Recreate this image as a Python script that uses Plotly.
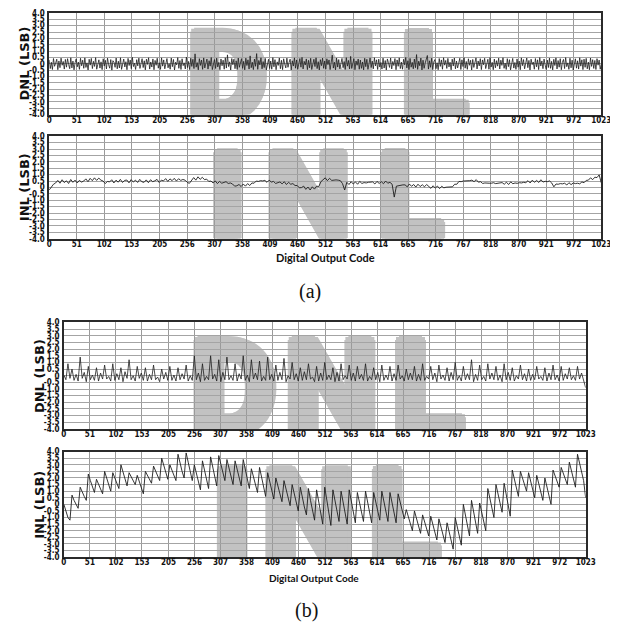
import numpy as np
import plotly.graph_objects as go

# ---------------- data ----------------
tick_codes = [0, 51, 102, 153, 205, 256, 307, 358, 409, 460, 512, 563, 614,
              665, 716, 767, 818, 870, 921, 972, 1023]
tick_labels = [str(c) for c in tick_codes]
y_ticks = [4.0, 3.5, 3.0, 2.5, 2.0, 1.5, 1.0, 0.5, 0.0, -0.5, -1.0, -1.5,
           -2.0, -2.5, -3.0, -3.5, -4.0]
y_labels = ["4.0", "3.5", "3.0", "2.5", "2.0", "1.5", "1.0", "0.5", "0",
            "-0.5", "-1.0", "-1.5", "-2.0", "-2.5", "-3.0", "-3.5", "-4.0"]

# (a) DNL, sampled every ~2 codes
dnl_a = [
    0.30, -0.38, 0.12, -0.45, 0.41, -0.20, 0.05, 0.36, -0.47, 0.22, -0.31, 0.44, -0.12, 0.18, -0.42, 0.34,
    -0.27, 0.40, -0.06, -0.39, 0.47, -0.33, 0.21, -0.48, 0.09, 0.38, -0.24, 0.13, -0.44, 0.43, -0.16, 0.28,
    -0.36, 0.46, -0.29, 0.07, -0.49, 0.35, -0.11, 0.42, -0.38, 0.19, -0.21, 0.48, -0.43, 0.02, 0.31, -0.34,
    0.15, -0.46, 0.39, -0.18, 0.27, -0.41, 0.44, -0.08, -0.35, 0.33, -0.50, 0.24, 0.11, -0.28, 0.45, -0.40,
    0.20, -0.33, 0.47, -0.44, 0.06, 0.37, -0.25, 0.16, -0.47, 0.42, -0.14, 0.29, -0.39, 0.50, -0.22, 0.04,
    -0.45, 0.32, -0.17, 0.44, -0.37, 0.10, 0.40, -0.30, 0.23, -0.48, 0.36, -0.05, 0.47, -0.42, 0.14, -0.26,
    0.38, -0.47, 0.26, -0.12, 0.43, -0.35, 0.08, -0.44, 0.46, -0.19, 0.30, -0.40, 0.17, 0.41, -0.32, 0.01,
    -0.43, 0.45, -0.23, 0.34, -0.49, 0.12, -0.09, 0.48, -0.36, 0.25, -0.45, 0.39, -0.15, 0.07, -0.41, 0.52,
    -0.30, 0.18, -0.46, 0.43, -0.21, 0.35, -0.38, 0.78, -0.27, 0.09, -0.48, 0.40, -0.13, 0.29, -0.44, 0.46,
    -0.33, 0.14, 0.37, -0.42, 0.24, -0.19, 0.49, -0.46, 0.05, 0.33, -0.37, 0.44, -0.25, 0.11, -0.47, 0.38,
    -0.16, 0.28, -0.43, 0.47, -0.34, 0.70, -0.22, 0.15, -0.49, 0.41, -0.08, 0.36, -0.39, 0.23, -0.45, 0.45,
    -0.28, 0.06, 0.40, -0.36, 0.19, -0.48, 0.44, -0.14, 0.31, -0.42, 0.62, -0.31, 0.12, -0.46, 0.37, -0.20,
    0.80, -0.44, 0.26, -0.09, 0.47, -0.40, 0.17, -0.30, 0.42, -0.48, 0.08, 0.35, -0.37, 0.21, -0.43, 0.48,
    -0.24, 0.32, -0.47, 0.15, -0.13, 0.45, -0.39, 0.27, -0.46, 0.39, -0.02, -0.33, 0.44, -0.28, 0.10, 0.36,
    -0.49, 0.23, -0.18, 0.46, -0.35, 0.30, -0.43, 0.13, 0.41, -0.27, 0.50, -0.41, 0.19, -0.10, 0.38, -0.46,
    0.27, -0.32, 0.43, -0.45, 0.09, 0.35, -0.22, 0.47, -0.38, 0.16, -0.49, 0.32, -0.15, 0.44, -0.36, 0.22,
    -0.42, 0.39, -0.07, 0.30, -0.46, 0.20, 0.68, -0.34, 0.12, -0.48, 0.45, -0.26, 0.33, -0.40, 0.06, 0.42,
    -0.31, 0.17, -0.45, 0.48, -0.19, 0.26, -0.41, 0.58, -0.37, 0.08, 0.40, -0.47, 0.22, -0.12, 0.37, -0.43,
    0.29, -0.36, 0.14, -0.48, 0.43, -0.23, 0.35, -0.44, 0.03, 0.46, -0.30, 0.21, -0.40, 0.47, -0.17, 0.31,
    -0.45, 0.36, -0.26, 0.10, -0.42, 0.44, -0.34, 0.25, -0.49, 0.38, 0.07, -0.29, 0.45, -0.41, 0.18, -0.14,
    0.41, -0.47, 0.30, -0.20, 0.46, -0.38, 0.13, -0.43, 0.35, -0.09, 0.49, -0.33, 0.24, -0.46, 0.42, -0.27,
    0.11, -0.40, 0.37, -0.31, 0.72, -0.44, 0.20, -0.16, 0.45, -0.49, 0.28, -0.36, 0.06, 0.39, 0.65, -0.42,
    0.23, -0.28, 0.44, -0.46, 0.16, 0.33, -0.39, 0.08, -0.47, 0.41, -0.21, 0.30, -0.43, 0.47, -0.11, 0.26,
    -0.37, 0.42, -0.25, 0.12, -0.48, 0.36, -0.18, 0.45, -0.40, 0.21, -0.33, 0.04, 0.43, -0.45, 0.31, -0.22,
    0.47, -0.35, 0.18, -0.44, 0.39, -0.12, 0.27, -0.49, 0.34, -0.29, 0.09, 0.46, -0.41, 0.22, -0.17, 0.40,
    -0.46, 0.30, -0.08, 0.43, -0.38, 0.15, 0.35, -0.43, 0.48, -0.26, 0.11, -0.47, 0.37, -0.32, 0.24, -0.19,
    0.44, -0.41, 0.28, -0.13, 0.47, -0.36, 0.05, -0.45, 0.40, -0.23, 0.32, -0.48, 0.17, 0.42, -0.34, 0.10,
    -0.44, 0.38, -0.27, 0.21, -0.47, 0.46, -0.15, 0.33, -0.40, 0.08, 0.45, -0.31, 0.26, -0.49, 0.36, -0.07,
    0.14, -0.43, 0.41, -0.24, 0.31, -0.46, 0.48, -0.18, 0.22, -0.39, 0.37, -0.10, -0.45, 0.29, -0.30, 0.44,
    -0.36, 0.19, -0.48, 0.35, -0.14, 0.46, -0.41, 0.25, -0.27, 0.40, -0.47, 0.12, 0.34, -0.38, 0.48, -0.23,
    0.07, -0.44, 0.43, -0.32, 0.28, -0.49, 0.16, 0.39, -0.35, 0.23, -0.42, 0.47, -0.19, 0.31, -0.46, 0.36,
    -0.28, 0.42, -0.40, 0.13, -0.47, 0.45, -0.21, 0.32, -0.37, 0.26, -0.45, 0.40, -0.11, 0.29, -0.43, -0.05,
]

# (a) INL, sampled every ~4 codes
inl_a = [
    -0.20, 0.05, 0.25, 0.35,
    0.55, 0.33, 0.60, 0.38, 0.52, 0.31, 0.62, 0.40, 0.57, 0.35, 0.55, 0.42,
    0.50, 0.67, 0.45, 0.71, 0.53, 0.75, 0.55, 0.73, 0.57, 0.50,
    0.30, 0.47,
    0.43, 0.60, 0.35, 0.57, 0.41, 0.63, 0.39, 0.55, 0.58, 0.36, 0.61, 0.42, 0.57, 0.39, 0.63, 0.44,
    0.40, 0.59, 0.37, 0.60, 0.45, 0.52, 0.63, 0.39, 0.57,
    0.51, 0.69, 0.47, 0.67, 0.53, 0.71, 0.50, 0.68, 0.55, 0.62, 0.57,
    0.40, 0.32,
    0.60, 0.77, 0.57, 0.83, 0.63, 0.79, 0.61,
    0.65, 0.47, 0.50, 0.35, 0.51, 0.30, 0.47, 0.33, 0.37, 0.45, 0.31, 0.35,
    0.27, 0.10, 0.13, 0.23, 0.07, 0.27, 0.10, 0.30, 0.15,
    0.35, 0.33, 0.50, 0.47, 0.53, 0.51, 0.55, 0.40, 0.57, 0.42,
    0.47, 0.31, 0.35, 0.43, 0.28, 0.45, 0.23, 0.40, 0.25, 0.30, 0.15,
    0.15, -0.03, -0.01, 0.10, -0.15, 0.03, -0.20, 0.05, -0.13, 0.10, 0.07,
    0.45, 0.57, 0.75, 0.53, 0.71, 0.55, 0.60, 0.59, 0.57, 0.53,
    0.30, -0.20,
    0.40, 0.23, 0.45, 0.27, 0.43, 0.25, 0.47, 0.31, 0.38, 0.35, 0.40, 0.39, 0.43, 0.27, 0.47, 0.31,
    0.45, 0.29, 0.50, 0.33, 0.40, 0.25,
    -0.75,
    0.10, 0.15, 0.17, 0.20, 0.20, 0.05, 0.27, 0.09, 0.23, 0.03, 0.25, 0.07, 0.21, 0.05, 0.23,
    0.10, -0.07, 0.13, -0.05, 0.11, -0.09, 0.09, -0.03, 0.02, 0.02, 0.05, 0.05, 0.25, 0.25,
    0.47, 0.45, 0.50, 0.50, 0.53, 0.53, 0.57, 0.45, 0.61, 0.41, 0.45, 0.31,
    0.35, 0.31, 0.33, 0.33, 0.37, 0.30, 0.32, 0.35, 0.38, 0.25, 0.41, 0.23, 0.43, 0.29, 0.35, 0.32,
    0.37, 0.35, 0.40,
    0.37, 0.53, 0.35, 0.57, 0.40, 0.55, 0.39, 0.60, 0.42, 0.48, 0.45, 0.51, 0.35,
    0.05,
    0.27, 0.25, 0.30, 0.28, 0.33, 0.19, 0.37, 0.22, 0.35, 0.30, 0.33, 0.28, 0.43, 0.37, 0.55,
    0.57, 0.75, 0.61, 0.80, 0.77, 0.98,
    0.35,
]

# (b) DNL, sampled every ~4 codes
dnl_b = [
    0.05, -0.30, 0.90, -0.20, 0.50, -0.35, 0.10, -0.40, 1.40, -0.20, 0.25, -0.45, 0.70, -0.30, 0.05, -0.35,
    0.60, -0.40, 0.20, -0.25, 0.80, -0.25, -0.05, -0.40, 0.90, -0.35, 0.15, -0.30, 0.60, -0.45, 0.30, -0.20,
    1.20, -0.30, 0.00, -0.40, 0.70, -0.20, 0.20, -0.35, 0.60, -0.40, 0.10, -0.30, 0.80, -0.30, -0.10, -0.45,
    0.50, -0.25, 0.25, -0.35, 0.70, -0.35, 0.05, -0.40, 0.60, -0.30, 0.15, -0.25, 0.80, -0.40, 0.00, -0.35,
    1.50, -0.30, 0.20, -0.45, 0.90, -0.35, -0.05, -0.30, 1.50, -0.25, 0.10, -0.40, 1.20, -0.45, 0.25, -0.30,
    1.40, -0.30, 0.00, -0.35, 0.90, -0.40, 0.15, -0.25, 1.50, -0.35, 0.05, -0.45, 1.20, -0.25, 0.20, -0.30,
    1.10, -0.40, -0.05, -0.35, 1.40, -0.30, 0.10, -0.40, 0.80, -0.35, 0.25, -0.30, 1.30, -0.45, 0.00, -0.25,
    1.00, -0.30, 0.15, -0.40, 0.60, -0.35, 0.30, -0.30, 0.90, -0.25, -0.10, -0.45, 0.70, -0.40, 0.20, -0.35,
    1.00, -0.30, 0.05, -0.30, 0.60, -0.45, 0.25, -0.40, 0.90, -0.30, 0.00, -0.25, 0.80, -0.35, 0.20, -0.40,
    0.70, -0.25, 0.10, -0.35, 0.90, -0.40, -0.05, -0.30, 0.60, -0.30, 0.25, -0.45, 0.80, -0.35, 0.05, -0.30,
    0.70, -0.40, 0.15, -0.35, 0.80, -0.25, 0.00, -0.40, 0.50, -0.30, 0.20, -0.30, 0.70, -0.40, 0.10, -0.35,
    0.90, -0.35, -0.05, -0.25, 0.70, -0.30, 0.20, -0.45, 0.80, -0.25, 0.05, -0.35, 0.60, -0.40, 0.25, -0.30,
    1.00, -0.35, 0.00, -0.40, 0.70, -0.30, 0.15, -0.30, 1.20, -0.45, 0.10, -0.35, 0.80, -0.30, -0.05, -0.40,
    0.90, -0.25, 0.20, -0.30, 0.70, -0.35, 0.05, -0.45, 0.90, -0.30, 0.25, -0.35, 0.60, -0.40, 0.00, -0.25,
    0.80, -0.30, 0.15, -0.40, 0.50, -0.35, 0.10, -0.30, 0.70, -0.25, -0.05, -0.35, 0.60, -0.40, 0.20, -0.30,
    0.80, -0.30, 0.05, -0.40, 0.70, -0.35, 0.15, -0.25, 0.60, -0.30, 0.00, -0.35, 0.70, -0.25, 0.20, -0.30,
    -0.90,
]

# (b) INL, sampled every ~4 codes
inl_b = [
    0.0, -0.5, -1.0, -1.2,   0.7, 0.3, 0.0, -0.3,    1.3, 0.9, 0.6, 0.3,     2.3, 1.8, 1.3, 0.9,
    1.9, 1.5, 1.1, 0.8,      2.5, 2.0, 1.4, 1.0,     2.4, 2.0, 1.6, 1.2,     3.0, 2.5, 1.9, 1.4,
    2.4, 2.1, 1.8, 1.5,      2.2, 1.7, 1.2, 0.8,     2.5, 2.2, 1.9, 1.6,     2.9, 2.5, 2.1, 1.8,
    3.5, 2.9, 2.3, 1.9,      3.0, 2.6, 2.2, 1.8,     3.8, 3.1, 2.5, 2.0,     3.9, 3.2, 2.4, 1.8,
    3.0, 2.4, 1.7, 1.1,      3.3, 2.6, 1.9, 1.2,     3.6, 2.8, 2.1, 1.4,     3.7, 3.0, 2.4, 1.8,
    3.4, 2.7, 2.1, 1.5,      3.3, 2.6, 2.0, 1.4,     3.4, 2.6, 1.9, 1.2,     2.7, 2.1, 1.5, 0.9,
    2.8, 2.0, 1.3, 0.6,      2.4, 1.7, 1.0, 0.4,     2.0, 1.4, 0.8, 0.2,     1.8, 1.1, 0.5, -0.1,
    1.5, 0.8, 0.1, -0.5,     1.3, 0.5, -0.2, -0.8,   1.2, 0.3, -0.5, -1.2,   1.1, 0.2, -0.7, -1.5,
    1.3, 0.3, -0.7, -1.6,    1.1, 0.3, -0.5, -1.3,   1.0, 0.2, -0.7, -1.5,   1.1, 0.2, -0.6, -1.4,
    0.9, 0.1, -0.6, -1.3,    1.0, 0.2, -0.6, -1.4,   0.9, 0.2, -0.5, -1.2,   1.0, 0.2, -0.6, -1.3,
    0.9, 0.1, -0.7, -1.4,    0.8, 0.1, -0.5, -1.1,   -0.4, -0.9, -1.5, -2.0, -0.5, -1.1, -1.7, -2.2,
    -0.8, -1.3, -1.9, -2.4,  -0.9, -1.5, -2.1, -2.7, -1.1, -1.7, -2.3, -2.9, -1.4, -2.1, -2.8, -3.4,
    -1.0, -1.7, -2.4, -3.1,  0.0, -0.8, -1.6, -2.4,  0.3, -0.5, -1.4, -2.2,  0.1, -0.6, -1.3, -2.0,
    1.2, 0.5, -0.3, -1.0,    1.5, 0.8, 0.1, -0.6,    1.6, 0.8, -0.1, -0.9,   2.6, 2.0, 1.2, 0.6,
    2.5, 2.0, 1.5, 1.0,      2.4, 1.7, 1.1, 0.5,     2.2, 1.6, 0.9, 0.3,     2.0, 1.3, 0.7, 0.0,
    2.6, 2.2, 1.7, 1.3,      2.8, 2.4, 1.9, 1.5,     3.2, 2.6, 1.9, 1.3,     3.8, 3.1, 2.5, 1.8,
    0.5,
]

y_titles = ["DNL (LSB)", "INL (LSB)", "DNL (LSB)", "INL (LSB)"]
x_title = "Digital Output Code"
captions = ["(a)", "(b)"]
watermarks = ["DNL", "INL", "DNL", "INL"]

# ---------------- layout geometry (reference pixels) ----------------
W, H = 618, 628
OFF = 8  # page body margin


def fx(px):
    return (px - OFF) / W


def fy(py):
    return 1 - (py - OFF) / H


panels = [
    dict(vals=dnl_a, px=(47, 611), py=(9, 112)),
    dict(vals=inl_a, px=(47, 611), py=(134, 238)),
    dict(vals=dnl_b, px=(62, 595), py=(323, 431)),
    dict(vals=inl_b, px=(62, 595), py=(454, 561)),
]
# watermark letter centres (code, value) and font size per panel
letter_x = [[330, 524, 714], [330, 480, 670], [333, 525, 714], [330, 480, 668]]
letter_y = [-0.35, -0.05, -0.32, -0.3]
letter_size = [123, 120, 134, 132]
WM_COL = "#c2c2c2"
wm_shadow = ", ".join(f"{dx}px {dy}px 0 {WM_COL}" for dx, dy in
                      [(4, 0), (-4, 0), (0, 4), (0, -4), (3, 3), (-3, -3), (3, -3), (-3, 3)])

tick_font = dict(family="'Liberation Sans Narrow', 'DejaVu Sans Condensed', 'Liberation Sans'",
                 size=8, color="#111", weight="bold")

fig = go.Figure()
annotations = []
shapes = []
line_widths = [0.8, 0.9, 0.8, 0.9]
for i, p in enumerate(panels):
    n = i + 1
    xa = "x" if n == 1 else f"x{n}"
    ya = "y" if n == 1 else f"y{n}"
    codes = np.linspace(0, 1023, len(p["vals"]))
    fig.add_trace(go.Scatter(x=codes, y=p["vals"], mode="lines",
                             line=dict(color="#1e1e1e", width=line_widths[i]),
                             xaxis=xa, yaxis=ya, showlegend=False, hoverinfo="skip"))
    xname = "xaxis" if n == 1 else f"xaxis{n}"
    yname = "yaxis" if n == 1 else f"yaxis{n}"
    fig.layout[xname] = dict(
        domain=[fx(p["px"][0]), fx(p["px"][1])], range=[0, 1023], anchor=ya,
        tickmode="array", tickvals=tick_codes, ticktext=tick_labels,
        showgrid=True, gridcolor="#9a9a9a", gridwidth=1, zeroline=False,
        showline=True, mirror=True, linecolor="#2a2a2a", linewidth=1.5,
        ticks="", tickfont=tick_font, ticklabelstandoff=-3)
    fig.layout[yname] = dict(
        domain=[fy(p["py"][1]), fy(p["py"][0])], range=[-4, 4], anchor=xa,
        tickmode="array", tickvals=y_ticks, ticktext=y_labels,
        showgrid=True, gridcolor="#a4a4a4", gridwidth=1, zeroline=False,
        showline=True, mirror=True, linecolor="#2a2a2a", linewidth=1.5,
        ticks="", tickfont=tick_font, ticklabelstandoff=1)
    # watermark letters: shape labels on the layer below the grid and the data
    for cx, ch in zip(letter_x[i], watermarks[i]):
        cy = letter_y[i]
        shapes.append(dict(
            type="rect", xref=xa, yref=ya, x0=cx - 10, x1=cx + 10, y0=cy - 0.2, y1=cy + 0.2,
            line=dict(width=0), fillcolor="rgba(0,0,0,0)", layer="below",
            label=dict(text=ch, textposition="middle center",
                       font=dict(family="Roboto", size=letter_size[i], color=WM_COL,
                                 weight=900, shadow=wm_shadow))))
    cx_pix = 22 if n <= 2 else 37
    cy_pix = (p["py"][0] + p["py"][1]) / 2
    annotations.append(dict(text=y_titles[i], x=fx(cx_pix), y=fy(cy_pix), xref="paper", yref="paper",
                            textangle=-90, showarrow=False, xanchor="center", yanchor="middle",
                            font=dict(family="DejaVu Sans", size=13, color="#111", weight="bold")))

for txt, x, y, fam, size in [
    (x_title, 329, 257, "Lato", 11),
    (x_title, 317, 582, "Lato", 10),
    (captions[0], 313, 292, "Liberation Serif", 20),
    (captions[1], 310, 615, "Liberation Serif", 20),
]:
    annotations.append(dict(text=txt, x=fx(x), y=fy(y), xref="paper", yref="paper", showarrow=False,
                            xanchor="center", yanchor="middle",
                            font=dict(family=fam, size=size, color="#111",
                                      weight="bold" if fam == "Lato" else "normal")))

fig.update_layout(width=W, height=H, autosize=False, margin=dict(l=0, r=0, t=0, b=0),
                  paper_bgcolor="white", plot_bgcolor="white",
                  shapes=shapes, annotations=annotations)
fig.write_html("out.html")
